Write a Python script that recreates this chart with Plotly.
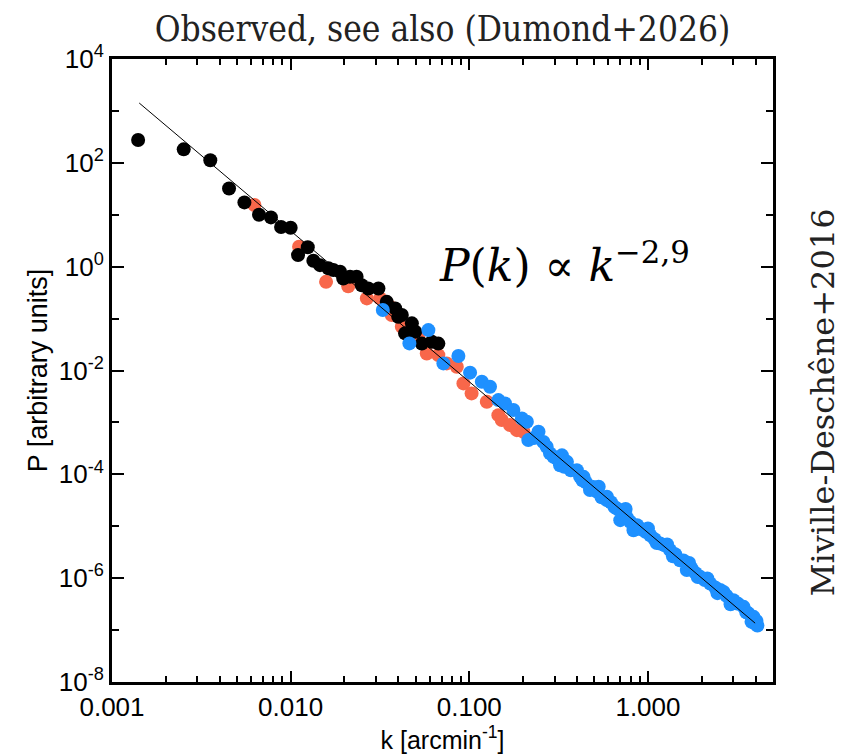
import plotly.graph_objects as go

# ---- data ----
black_k = [0.0014, 0.00252, 0.00355, 0.00452, 0.00551, 0.00665, 0.00776, 0.00884, 0.0100,
           0.0110, 0.01247, 0.0134, 0.0146, 0.01626, 0.01734, 0.0189, 0.0197, 0.0215,
           0.0234, 0.025, 0.0272, 0.031, 0.0345, 0.0385, 0.040, 0.0419, 0.0437, 0.0477,
           0.0498, 0.0542, 0.0617, 0.0671]
black_P = [275, 182, 112, 32, 17.3, 10, 8.9, 5.8, 5.6,
           1.67, 2.36, 1.3, 1.07, 0.93, 0.86, 0.80, 0.59, 0.64,
           0.64, 0.44, 0.38, 0.38, 0.21, 0.157, 0.108, 0.117, 0.052, 0.081,
           0.0557, 0.033, 0.0357, 0.033]

red_k = [0.00627, 0.01115, 0.01578, 0.021, 0.0267, 0.0317, 0.036, 0.0368, 0.0419, 0.0471,
         0.0519, 0.0578, 0.0671, 0.0748, 0.0851, 0.0927, 0.103, 0.1253, 0.1455, 0.152,
         0.169, 0.1846, 0.201]
red_P = [15.4, 2.42, 0.51, 0.42, 0.245, 0.245, 0.169, 0.117, 0.0695, 0.0447,
         0.0415, 0.0213, 0.0198, 0.0137, 0.0118, 0.00564, 0.00362, 0.0025, 0.00138, 0.00111,
         0.00089, 0.00071, 0.00066]

blue_k = [0.0328, 0.0462, 0.059, 0.0716, 0.0869, 0.101, 0.1175, 0.1306, 0.1455, 0.1585,
          0.1765, 0.197, 0.21, 0.214, 0.23, 0.244, 0.26, 0.271, 0.283, 0.296,
          0.31, 0.322, 0.33, 0.34, 0.352, 0.37, 0.40, 0.417, 0.43, 0.436, 0.45, 0.474,
          0.495, 0.52, 0.53, 0.55, 0.588, 0.589, 0.62, 0.65, 0.67, 0.70, 0.72, 0.75, 0.76,
          0.795, 0.83, 0.87, 0.90, 0.92, 0.97, 1.0, 1.03, 1.09, 1.12, 1.17, 1.24, 1.28, 1.33,
          1.38, 1.42, 1.51, 1.58, 1.65, 1.70, 1.75, 1.85, 1.90, 1.96, 2.08, 2.15, 2.23, 2.38,
          2.45, 2.54, 2.65, 2.75, 2.9, 3.01, 3.1, 3.2, 3.43, 3.55, 3.65, 3.8, 3.9, 3.98, 4.05, 4.1]
blue_P = [0.146, 0.0333, 0.060, 0.0137, 0.019, 0.0091, 0.00606, 0.00485, 0.00269, 0.00232,
          0.00173, 0.00119, 0.00103, 0.000456, 0.00050, 0.00066, 0.00042, 0.000339, 0.000253, 0.000217,
          0.00020, 0.00015, 2.32e-4, 0.00014, 0.000174, 0.00012, 0.00012, 8.95e-5, 7.66e-5, 8.95e-5, 7.0e-5, 4.97e-5,
          5.7e-5, 4.6e-5, 5.75e-5, 3.6e-5, 3.18e-5, 3.7e-5, 2.9e-5, 2.35e-5, 2.2e-5, 1.31e-5, 1.7e-5, 2.15e-5, 1.5e-5,
          1.22e-5, 8.4e-6, 1.05e-5, 8.97e-6, 8.8e-6, 7.8e-6, 9.1e-6, 6.7e-6, 5.6e-6, 4.75e-6, 4.66e-6, 4.3e-6, 4.46e-6, 3.47e-6,
          2.65e-6, 2.9e-6, 2.22e-6, 2.2e-6, 1.43e-6, 1.96e-6, 1.55e-6, 1.25e-6, 1.05e-6, 1.06e-6, 9.2e-7, 9.9e-7, 7.9e-7, 6.6e-7,
          5.15e-7, 5.9e-7, 5.4e-7, 4.6e-7, 3.15e-7, 3.77e-7, 3.35e-7, 3.2e-7, 2.8e-7, 2.2e-7, 2.1e-7, 1.44e-7, 1.8e-7, 1.34e-7, 1.5e-7, 1.22e-7]

fit_k = [0.00142, 3.98]
fit_P = [1420, 1.36e-7]

x_tickvals = [0.001, 0.01, 0.1, 1.0]
x_ticktext = ["0.001", "0.010", "0.100", "1.000"]
x_minor = [m * d for d in [0.001, 0.01, 0.1, 1.0] for m in range(2, 10) if m * d < 5.1]

y_tickvals = [1e-8, 1e-6, 1e-4, 1e-2, 1e0, 1e2, 1e4]
y_ticktext = ["10<sup>-8</sup>", "10<sup>-6</sup>", "10<sup>-4</sup>", "10<sup>-2</sup>",
              "10<sup>0</sup>", "10<sup>2</sup>", "10<sup>4</sup>"]
y_minor = [1e-7, 1e-5, 1e-3, 1e-1, 1e1, 1e3]

title_text = "Observed, see also (Dumond+2026)"
side_text = "Miville-Deschêne+2016"
law_text = "<i>P</i>(<i>k</i>) ∝ <i>k</i><sup>−2,9</sup>"

# ---- figure ----
fig = go.Figure()
msize = 14
fig.add_trace(go.Scatter(x=red_k, y=red_P, mode="markers",
                         marker=dict(color="#F8674A", size=msize), showlegend=False))
fig.add_trace(go.Scatter(x=black_k, y=black_P, mode="markers",
                         marker=dict(color="black", size=msize), showlegend=False))
fig.add_trace(go.Scatter(x=blue_k, y=blue_P, mode="markers",
                         marker=dict(color="#1E90FF", size=msize), showlegend=False))
fig.add_trace(go.Scatter(x=fit_k, y=fit_P, mode="lines",
                         line=dict(color="black", width=1), showlegend=False))

sans = "Liberation Sans, Arial, sans-serif"
axis_font = dict(family=sans, size=26, color="black")

fig.update_xaxes(type="log", range=[-3, 0.7], showgrid=False, zeroline=False,
                 showline=True, linecolor="black", linewidth=3, mirror="ticks",
                 ticks="inside", ticklen=11, tickwidth=2, tickcolor="black",
                 tickmode="array", tickvals=x_tickvals, ticktext=x_ticktext,
                 tickfont=axis_font,
                 minor=dict(tickmode="array", tickvals=x_minor, ticks="inside",
                            ticklen=6, tickwidth=2, tickcolor="black", showgrid=False),
                 title=dict(text="k [arcmin<sup>-1</sup>]", font=dict(family=sans, size=25, color="black"), standoff=1))
fig.update_yaxes(type="log", range=[-8, 4], showgrid=False, zeroline=False,
                 showline=True, linecolor="black", linewidth=3, mirror="ticks",
                 ticks="inside", ticklen=12, tickwidth=2, tickcolor="black",
                 tickmode="array", tickvals=y_tickvals, ticktext=y_ticktext,
                 tickfont=axis_font,
                 minor=dict(tickmode="array", tickvals=y_minor, ticks="inside",
                            ticklen=7, tickwidth=2, tickcolor="black", showgrid=False),
                 title=dict(text="P [arbitrary units]", font=dict(family=sans, size=27, color="black"), standoff=4))

fig.update_layout(
    width=835, height=747,
    margin=dict(l=104, r=70, t=51, b=73),
    paper_bgcolor="white", plot_bgcolor="white",
    title=dict(text=title_text, xref="paper", x=0.5, xanchor="center", y=0.972, yanchor="middle",
               font=dict(family="DejaVu Serif Condensed, DejaVu Serif, serif", size=35, color="#222222")),
)

fig.add_annotation(text=law_text, xref="paper", yref="paper", x=0.685, y=0.674,
                   xanchor="center", yanchor="middle", showarrow=False,
                   font=dict(family="DejaVu Serif, serif", size=44, color="black"))
fig.add_annotation(text=side_text, xref="paper", yref="paper", x=1.0, xshift=50, y=0.449,
                   xanchor="center", yanchor="middle", showarrow=False, textangle=-90,
                   font=dict(family="DejaVu Serif, serif", size=32, color="#222222"))

fig.write_html("out.html")
